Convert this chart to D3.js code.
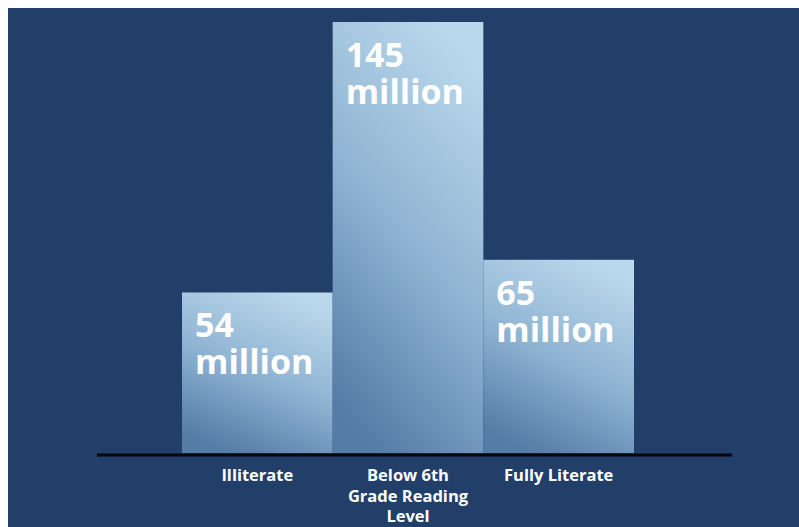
<!DOCTYPE html>
<html>
<head>
<meta charset="utf-8">
<script src="https://cdn.jsdelivr.net/npm/d3@7"></script>
<style>
    body { margin: 0; background: #fff; }
    svg { display: block; }
</style>
</head>
<body>
<svg width="799" height="527"></svg>
<script>
const width = 799;
const height = 527;

const categories = ["Illiterate", "Below 6th Grade Reading Level", "Fully Literate"];
const values = [54, 145, 65];
const valueLabels = ["54", "145", "65"];
const unitLabel = "million";
// tick labels as they wrap under each bar
const tickLines = [
    ["Illiterate"],
    ["Below 6th", "Grade Reading", "Level"],
    ["Fully Literate"],
];

const svg = d3.select("svg");

// navy panel, leaving the thin white strip on top and left
svg.append("rect")
    .attr("x", 8)
    .attr("y", 8)
    .attr("width", width - 8)
    .attr("height", height - 8)
    .attr("fill", "#223f69");

const x = d3.scaleBand().domain(categories).range([182, 634]).padding(0);
const y = d3.scaleLinear().domain([0, 145]).range([453, 22]);

// gradient: light at the top (a bit to the right), darker toward the bottom
const defs = svg.append("defs");
const grad = defs.append("linearGradient")
    .attr("id", "barGrad")
    .attr("x1", 0.7).attr("y1", 0)
    .attr("x2", 0.3).attr("y2", 1);
grad.append("stop").attr("offset", 0).attr("stop-color", "#bad8eb");
grad.append("stop").attr("offset", 0.5).attr("stop-color", "#8fb4d3");
grad.append("stop").attr("offset", 1).attr("stop-color", "#557ba7");

const bars = svg.append("g").attr("class", "bars");

bars.selectAll("rect")
    .data(categories)
    .join("rect")
    .attr("x", (d) => x(d))
    .attr("y", (d, i) => y(values[i]))
    .attr("width", x.bandwidth())
    .attr("height", (d, i) => y(0) - y(values[i]))
    .attr("fill", "url(#barGrad)");

// value labels inside the bars, two lines each
const valueText = (line, dy) => bars.selectAll("text." + line)
    .data(categories)
    .join("text")
    .attr("class", line)
    .attr("x", (d) => x(d) + 13)
    .attr("y", (d, i) => y(values[i]) + dy)
    .attr("font-family", "'Open Sans', sans-serif")
    .attr("font-weight", 700)
    .attr("font-size", 34)
    .attr("fill", "#fff");

valueText("num", 45).text((d, i) => valueLabels[i]);
valueText("unit", 82).text(unitLabel);

// baseline
svg.append("line")
    .attr("x1", 97)
    .attr("x2", 732)
    .attr("y1", y(0) + 2)
    .attr("y2", y(0) + 2)
    .attr("stroke", "#05070d")
    .attr("stroke-width", 3);

// category labels
const ticks = svg.append("g").attr("class", "ticks")
    .selectAll("text")
    .data(categories)
    .join("text")
    .attr("text-anchor", "middle")
    .attr("font-family", "'Open Sans', sans-serif")
    .attr("font-weight", 700)
    .attr("font-size", 16.5)
    .attr("fill", "#fff");

ticks.selectAll("tspan")
    .data((d, i) => tickLines[i].map((line) => ({ line, cat: d })))
    .join("tspan")
    .attr("x", (d) => x(d.cat) + x.bandwidth() / 2)
    .attr("y", (d, j) => 481 + j * 20.5)
    .text((d) => d.line);
</script>
</body>
</html>
